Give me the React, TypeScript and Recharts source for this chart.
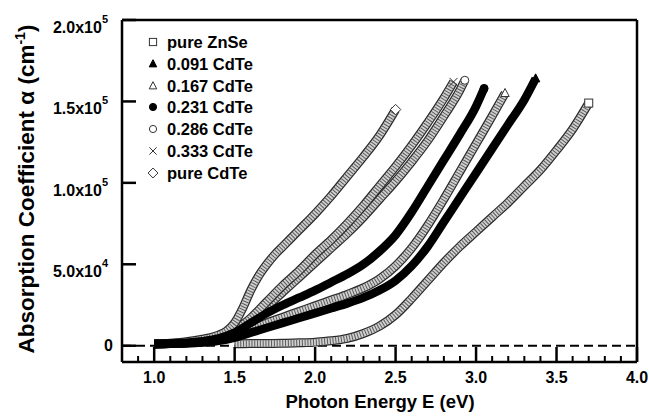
import { LineChart, Line, XAxis, YAxis, ReferenceLine } from "recharts"

const FONT = '"Liberation Sans", Arial, Helvetica, sans-serif'

// photon energy (eV) and absorption coefficient (cm^-1)
const znseEnergy = [1.5, 1.6, 1.7, 1.8, 1.9, 2.0, 2.1, 2.2, 2.3, 2.4, 2.5, 2.6, 2.7, 2.8, 2.9, 3.0, 3.1, 3.2, 3.3, 3.4, 3.5, 3.6, 3.7]
const znseAlpha = [1200, 1300, 1400, 1500, 1800, 2200, 3000, 4500, 7500, 12000, 19000, 29000, 40000, 51000, 61000, 70000, 79000, 88000, 98000, 108000, 120000, 133000, 149000]

const cdte091Energy = [1.0, 1.1, 1.2, 1.3, 1.4, 1.5, 1.6, 1.7, 1.8, 1.9, 2.0, 2.1, 2.2, 2.3, 2.4, 2.5, 2.6, 2.7, 2.8, 2.9, 3.0, 3.1, 3.2, 3.3, 3.37]
const cdte091Alpha = [1000, 1200, 1500, 2000, 3000, 5000, 8000, 11000, 14000, 17000, 20000, 23000, 26000, 29500, 34000, 40000, 49000, 61000, 76000, 91000, 106000, 121000, 136000, 151000, 164000]

const cdte167Energy = [1.0, 1.1, 1.2, 1.3, 1.4, 1.5, 1.6, 1.7, 1.8, 1.9, 2.0, 2.1, 2.2, 2.3, 2.4, 2.5, 2.6, 2.7, 2.8, 2.9, 3.0, 3.1, 3.18]
const cdte167Alpha = [1000, 1300, 1700, 2300, 3500, 6000, 10000, 14000, 17500, 21000, 24500, 28000, 31500, 35500, 41000, 49000, 60000, 74000, 90000, 107000, 124000, 141000, 155000]

const cdte231Energy = [1.0, 1.1, 1.2, 1.3, 1.4, 1.5, 1.6, 1.7, 1.8, 1.9, 2.0, 2.1, 2.2, 2.3, 2.4, 2.5, 2.6, 2.7, 2.8, 2.9, 3.0, 3.05]
const cdte231Alpha = [1000, 1300, 1800, 2800, 4500, 8000, 14000, 20000, 25000, 29500, 34000, 39000, 44000, 50000, 58000, 68000, 82000, 98000, 114000, 130000, 147000, 158000]

const cdte286Energy = [1.0, 1.1, 1.2, 1.3, 1.4, 1.5, 1.6, 1.7, 1.8, 1.9, 2.0, 2.1, 2.2, 2.3, 2.4, 2.5, 2.6, 2.7, 2.8, 2.9, 2.93]
const cdte286Alpha = [1000, 1300, 1800, 2800, 4500, 8500, 15000, 24000, 33000, 42000, 51000, 60000, 69000, 79000, 90000, 101000, 113000, 126000, 141000, 157000, 163000]

const cdte333Energy = [1.0, 1.1, 1.2, 1.3, 1.4, 1.5, 1.6, 1.7, 1.8, 1.9, 2.0, 2.1, 2.2, 2.3, 2.4, 2.5, 2.6, 2.7, 2.8, 2.86]
const cdte333Alpha = [1000, 1300, 1800, 2800, 5000, 9500, 17000, 27000, 37000, 46000, 56000, 65000, 75000, 86000, 98000, 110000, 123000, 137000, 152000, 162000]

const cdteEnergy = [1.0, 1.1, 1.2, 1.3, 1.35, 1.4, 1.45, 1.5, 1.55, 1.6, 1.65, 1.7, 1.75, 1.8, 1.9, 2.0, 2.1, 2.2, 2.3, 2.4, 2.5]
const cdteAlpha = [1000, 1500, 2500, 4000, 5000, 6500, 9000, 14000, 23000, 34000, 43000, 50000, 56000, 61000, 71000, 81000, 92000, 104000, 116000, 129000, 145000]

const legendLabels = ["pure ZnSe", "0.091 CdTe", "0.167 CdTe", "0.231 CdTe", "0.286 CdTe", "0.333 CdTe", "pure CdTe"]

const xTicks = [0.9, 1.0, 1.1, 1.2, 1.3, 1.4, 1.5, 1.6, 1.7, 1.8, 1.9, 2.0, 2.1, 2.2, 2.3, 2.4, 2.5, 2.6, 2.7, 2.8, 2.9, 3.0, 3.1, 3.2, 3.3, 3.4, 3.5, 3.6, 3.7, 3.8, 3.9, 4.0]
const yTicks = [0, 50000, 100000, 150000, 200000]

type Shape = "square" | "triangle" | "circle" | "cross" | "diamond"

interface Series {
  name: string
  energy: number[]
  alpha: number[]
  shape: Shape
  filled: boolean
}

const series: Series[] = [
  { name: legendLabels[0], energy: znseEnergy, alpha: znseAlpha, shape: "square", filled: false },
  { name: legendLabels[2], energy: cdte167Energy, alpha: cdte167Alpha, shape: "triangle", filled: false },
  { name: legendLabels[4], energy: cdte286Energy, alpha: cdte286Alpha, shape: "circle", filled: false },
  { name: legendLabels[5], energy: cdte333Energy, alpha: cdte333Alpha, shape: "cross", filled: false },
  { name: legendLabels[6], energy: cdteEnergy, alpha: cdteAlpha, shape: "diamond", filled: false },
  { name: legendLabels[1], energy: cdte091Energy, alpha: cdte091Alpha, shape: "triangle", filled: true },
  { name: legendLabels[3], energy: cdte231Energy, alpha: cdte231Alpha, shape: "circle", filled: true },
]

const legendShapes: { shape: Shape; filled: boolean }[] = [
  { shape: "square", filled: false },
  { shape: "triangle", filled: true },
  { shape: "triangle", filled: false },
  { shape: "circle", filled: true },
  { shape: "circle", filled: false },
  { shape: "cross", filled: false },
  { shape: "diamond", filled: false },
]

function Marker({ shape, filled, cx, cy, r }: { shape: Shape; filled: boolean; cx: number; cy: number; r: number }) {
  const fill = filled ? "#000" : "#fff"
  const stroke = filled ? "#000" : "#333"
  switch (shape) {
    case "square":
      return <rect x={cx - r} y={cy - r} width={2 * r} height={2 * r} fill={fill} stroke={stroke} strokeWidth={1} />
    case "triangle":
      return (
        <polygon
          points={`${cx},${cy - r * 1.2} ${cx + r * 1.05},${cy + r * 0.8} ${cx - r * 1.05},${cy + r * 0.8}`}
          fill={fill}
          stroke={stroke}
          strokeWidth={1}
        />
      )
    case "circle":
      return <circle cx={cx} cy={cy} r={r} fill={fill} stroke={stroke} strokeWidth={1} />
    case "cross":
      return (
        <path
          d={`M${cx - r},${cy - r}L${cx + r},${cy + r}M${cx - r},${cy + r}L${cx + r},${cy - r}`}
          stroke={stroke}
          strokeWidth={1}
          fill="none"
        />
      )
    default:
      return (
        <polygon
          points={`${cx},${cy - r * 1.3} ${cx + r * 1.3},${cy} ${cx},${cy + r * 1.3} ${cx - r * 1.3},${cy}`}
          fill={fill}
          stroke={stroke}
          strokeWidth={1}
        />
      )
  }
}

function endDot(s: Series) {
  return (props: any) => {
    const { cx, cy, index } = props
    if (index !== s.energy.length - 1) return <g key={index} />
    return (
      <g key={index}>
        <Marker shape={s.shape} filled={s.filled} cx={cx} cy={cy} r={4} />
      </g>
    )
  }
}

function YTick({ x, y, payload }: any) {
  const v = payload.value as number
  if (v === 0) {
    return (
      <g>
        <line x1={x} y1={y} x2={x + 14} y2={y} stroke="#000" strokeWidth={2.5} />
        <text x={x - 9} y={y + 5} textAnchor="end" fontFamily={FONT} fontWeight="bold" fontSize={16} fill="#000">
          0
        </text>
      </g>
    )
  }
  const exp = Math.floor(Math.log10(v))
  const mant = (v / Math.pow(10, exp)).toFixed(1)
  return (
    <g>
      <line x1={x} y1={y} x2={x + 14} y2={y} stroke="#000" strokeWidth={2.5} />
      <text x={x - 14} y={y + 13} textAnchor="end" fontFamily={FONT} fontWeight="bold" fontSize={16} fill="#000">
        {mant}x10
        <tspan dy={-10} fontSize={11}>
          {exp}
        </tspan>
      </text>
    </g>
  )
}

function XTick({ x, y, payload }: any) {
  const v = payload.value as number
  const major = Math.abs(v * 2 - Math.round(v * 2)) < 1e-6
  return (
    <g>
      <line x1={x} y1={y} x2={x} y2={y - (major ? 15 : 6)} stroke="#000" strokeWidth={major ? 2.5 : 2} />
      {major && (
        <text x={x} y={y + 21} textAnchor="middle" fontFamily={FONT} fontWeight="bold" fontSize={16} fill="#000">
          {v.toFixed(1)}
        </text>
      )}
    </g>
  )
}

function YTitle() {
  return (
    <text
      transform="translate(34, 189) rotate(-90)"
      textAnchor="middle"
      fontFamily={FONT}
      fontWeight="bold"
      fontSize={22.5}
      fill="#000"
    >
      Absorption Coefficient α (cm
      <tspan dy={-9} fontSize={14}>
        -1
      </tspan>
      <tspan dy={9}>)</tspan>
    </text>
  )
}

function XTitle() {
  return (
    <text x={380} y={408} textAnchor="middle" fontFamily={FONT} fontWeight="bold" fontSize={18.5} fill="#000">
      Photon Energy E (eV)
    </text>
  )
}

function Legend() {
  return (
    <div style={{ position: "absolute", left: 0, top: 0 }}>
      {legendLabels.map((label, i) => {
        const cy = 42 + i * 21.8
        const m = legendShapes[i]
        return (
          <div key={label}>
            <svg
              width={14}
              height={14}
              style={{ position: "absolute", left: 146, top: cy - 7 }}
            >
              <Marker shape={m.shape} filled={m.filled} cx={7} cy={7} r={m.shape === "diamond" ? 3.8 : 3.6} />
            </svg>
            <div
              style={{
                position: "absolute",
                left: 167,
                top: cy - 10,
                fontFamily: FONT,
                fontWeight: "bold",
                fontSize: 16.5,
                lineHeight: "20px",
                whiteSpace: "nowrap",
                color: "#000",
              }}
            >
              {label}
            </div>
          </div>
        )
      })}
    </div>
  )
}

export default function App() {
  const lines = series.flatMap((s, si) => {
    const data = s.energy.map((e, i) => ({ e, a: s.alpha[i] }))
    if (s.filled) {
      return [
        <Line
          key={`f${si}`}
          data={data}
          dataKey="a"
          type="monotone"
          stroke="#000"
          strokeWidth={8.5}
          dot={endDot(s)}
          activeDot={false}
          isAnimationActive={false}
          legendType="none"
        />,
      ]
    }
    return [
      <Line key={`o${si}`} data={data} dataKey="a" type="monotone" stroke="#2a2a2a" strokeWidth={9} dot={false} activeDot={false} isAnimationActive={false} legendType="none" />,
      <Line key={`i${si}`} data={data} dataKey="a" type="monotone" stroke="#d0d0d0" strokeWidth={6.5} dot={false} activeDot={false} isAnimationActive={false} legendType="none" />,
      <Line
        key={`s${si}`}
        data={data}
        dataKey="a"
        type="monotone"
        stroke="#5a5a5a"
        strokeWidth={6.5}
        strokeDasharray="1 1.8"
        dot={endDot(s)}
        activeDot={false}
        isAnimationActive={false}
        legendType="none"
      />,
    ]
  })

  return (
    <div style={{ position: "absolute", left: 0, top: 0, width: 649, height: 416, background: "#fff" }}>
      <LineChart width={649} height={416} margin={{ top: 20, right: 12, bottom: 0, left: 0 }}>
        <XAxis
          type="number"
          dataKey="e"
          domain={[0.8, 4.0]}
          ticks={xTicks}
          interval={0}
          tickSize={0}
          tickMargin={0}
          tickLine={false}
          tick={<XTick />}
          axisLine={{ stroke: "#000", strokeWidth: 2.5 }}
          height={54}
          allowDataOverflow
          label={<XTitle />}
        />
        <YAxis
          type="number"
          domain={[-10000, 200000]}
          ticks={yTicks}
          interval={0}
          tickSize={0}
          tickMargin={0}
          tickLine={false}
          tick={<YTick />}
          axisLine={{ stroke: "#000", strokeWidth: 2.5 }}
          width={122}
          allowDataOverflow
          label={<YTitle />}
        />
        <ReferenceLine y={0} stroke="#000" strokeWidth={2} strokeDasharray="9 5" />
        <ReferenceLine y={200000} stroke="#000" strokeWidth={2.5} />
        <ReferenceLine x={4.0} stroke="#000" strokeWidth={2.5} />
        {lines}
      </LineChart>
      <Legend />
    </div>
  )
}
